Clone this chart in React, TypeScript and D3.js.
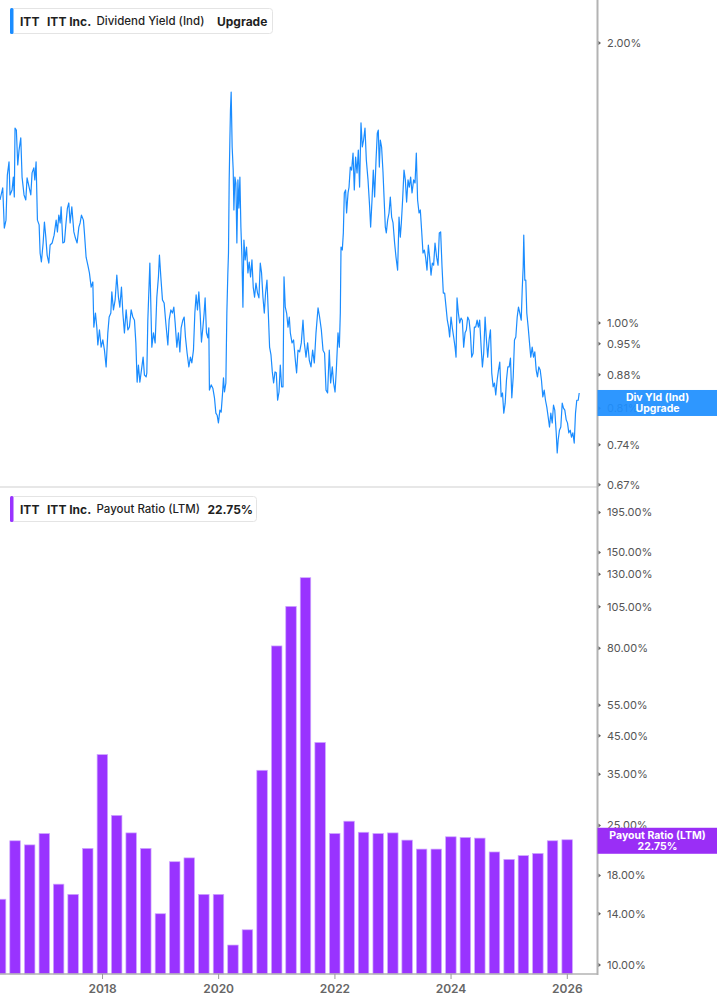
import * as d3 from 'd3';

const WIDTH = 717;
const HEIGHT = 1005;
const AXIS_X = 597.5;
const SPLIT_Y = 487;
const BOTTOM_Y = 974;

const BLUE = '#1a8cff';
const PURPLE = '#9933ff';

// dividend yield (ind), % -- [decimal year, value]
const divYield: [number, number][] = [
  [2016.236, 1.356], [2016.283, 1.397], [2016.310, 1.265], [2016.339, 1.290], [2016.362, 1.442],
  [2016.391, 1.490], [2016.408, 1.373], [2016.443, 1.390], [2016.465, 1.435], [2016.482, 1.366],
  [2016.494, 1.620], [2016.517, 1.612], [2016.541, 1.479], [2016.563, 1.534], [2016.593, 1.581],
  [2016.615, 1.435], [2016.649, 1.373], [2016.679, 1.356], [2016.701, 1.432], [2016.736, 1.400],
  [2016.765, 1.373], [2016.787, 1.450], [2016.817, 1.468], [2016.834, 1.425], [2016.856, 1.490],
  [2016.879, 1.290], [2016.908, 1.275], [2016.925, 1.189], [2016.947, 1.163], [2016.977, 1.219],
  [2016.999, 1.284], [2017.023, 1.237], [2017.046, 1.183], [2017.075, 1.160], [2017.097, 1.213],
  [2017.132, 1.219], [2017.166, 1.243], [2017.201, 1.290], [2017.223, 1.253], [2017.247, 1.306],
  [2017.270, 1.281], [2017.287, 1.333], [2017.316, 1.219], [2017.344, 1.222], [2017.368, 1.275],
  [2017.395, 1.329], [2017.419, 1.346], [2017.442, 1.281], [2017.471, 1.333], [2017.506, 1.253],
  [2017.533, 1.234], [2017.562, 1.219], [2017.592, 1.268], [2017.614, 1.281], [2017.637, 1.306],
  [2017.671, 1.290], [2017.688, 1.250], [2017.717, 1.177], [2017.747, 1.154], [2017.774, 1.132],
  [2017.804, 1.093], [2017.833, 1.107], [2017.850, 0.990], [2017.878, 1.025], [2017.902, 0.988],
  [2017.919, 0.947], [2017.947, 0.983], [2017.976, 0.942], [2018.005, 0.959], [2018.033, 0.935],
  [2018.062, 0.897], [2018.091, 0.976], [2018.114, 1.015], [2018.143, 1.025], [2018.160, 1.080],
  [2018.188, 1.033], [2018.217, 1.059], [2018.246, 1.126], [2018.274, 1.066], [2018.298, 1.040],
  [2018.326, 1.093], [2018.350, 1.025], [2018.377, 0.976], [2018.407, 1.033], [2018.436, 0.983],
  [2018.463, 0.990], [2018.493, 1.033], [2018.522, 1.015], [2018.550, 1.007], [2018.574, 0.952],
  [2018.596, 0.864], [2018.618, 0.901], [2018.643, 0.864], [2018.670, 0.890], [2018.699, 0.919],
  [2018.722, 0.879], [2018.751, 0.875], [2018.763, 0.884], [2018.780, 1.007], [2018.815, 1.160],
  [2018.849, 0.942], [2018.877, 0.976], [2018.906, 0.952], [2018.935, 1.066], [2018.963, 1.121],
  [2018.980, 1.183], [2019.004, 1.121], [2019.032, 1.059], [2019.061, 1.051], [2019.090, 1.000],
  [2019.125, 0.947], [2019.147, 1.007], [2019.177, 1.033], [2019.204, 1.025], [2019.228, 1.040],
  [2019.251, 1.000], [2019.280, 0.942], [2019.307, 0.976], [2019.332, 0.931], [2019.354, 0.988],
  [2019.383, 1.007], [2019.406, 1.015], [2019.428, 0.966], [2019.457, 0.928], [2019.487, 0.897],
  [2019.514, 0.919], [2019.538, 0.906], [2019.566, 0.935], [2019.590, 1.025], [2019.612, 1.072],
  [2019.635, 1.033], [2019.659, 1.080], [2019.681, 1.025], [2019.704, 0.954], [2019.728, 0.988],
  [2019.750, 1.025], [2019.767, 1.064], [2019.790, 0.976], [2019.814, 0.964], [2019.831, 0.988],
  [2019.841, 0.847], [2019.871, 0.858], [2019.900, 0.851], [2019.928, 0.831], [2019.952, 0.800],
  [2019.974, 0.796], [2019.996, 0.781], [2020.021, 0.806], [2020.043, 0.802], [2020.065, 0.837],
  [2020.083, 0.873], [2020.100, 0.843], [2020.124, 0.862], [2020.141, 1.025], [2020.158, 1.132],
  [2020.169, 1.189], [2020.181, 1.425], [2020.193, 1.573], [2020.203, 1.694], [2020.215, 1.771],
  [2020.232, 1.546], [2020.250, 1.460], [2020.262, 1.323], [2020.279, 1.435], [2020.296, 1.414],
  [2020.313, 1.219], [2020.331, 1.425], [2020.348, 1.329], [2020.365, 1.435], [2020.382, 1.268],
  [2020.400, 1.177], [2020.417, 1.040], [2020.434, 1.228], [2020.456, 1.169], [2020.479, 1.207],
  [2020.503, 1.132], [2020.525, 1.163], [2020.548, 1.121], [2020.572, 1.169], [2020.594, 1.093],
  [2020.617, 1.066], [2020.641, 1.104], [2020.668, 1.077], [2020.692, 1.064], [2020.715, 1.160],
  [2020.737, 1.132], [2020.761, 1.066], [2020.784, 1.025], [2020.806, 1.077], [2020.830, 1.112],
  [2020.853, 1.025], [2020.875, 0.942], [2020.899, 0.924], [2020.922, 0.886], [2020.944, 0.862],
  [2020.968, 0.886], [2020.990, 0.884], [2021.013, 0.826], [2021.037, 0.843], [2021.059, 0.901],
  [2021.082, 0.854], [2021.106, 0.854], [2021.123, 1.121], [2021.145, 1.040], [2021.168, 1.025],
  [2021.192, 0.990], [2021.214, 1.015], [2021.232, 0.976], [2021.261, 0.952], [2021.288, 0.959],
  [2021.318, 0.912], [2021.340, 0.884], [2021.364, 0.935], [2021.392, 0.931], [2021.421, 0.952],
  [2021.450, 1.007], [2021.473, 0.952], [2021.502, 0.919], [2021.530, 0.952], [2021.559, 0.912],
  [2021.588, 0.897], [2021.616, 0.935], [2021.645, 0.906], [2021.674, 0.976], [2021.709, 1.038],
  [2021.736, 1.015], [2021.766, 0.983], [2021.795, 0.935], [2021.822, 0.928], [2021.847, 0.847],
  [2021.874, 0.841], [2021.903, 0.935], [2021.926, 0.862], [2021.955, 0.897], [2021.977, 0.862],
  [2022.002, 0.843], [2022.024, 0.890], [2022.053, 0.976], [2022.076, 0.942], [2022.093, 1.025],
  [2022.105, 1.207], [2022.127, 1.198], [2022.145, 1.250], [2022.162, 1.380], [2022.184, 1.390],
  [2022.201, 1.313], [2022.226, 1.380], [2022.243, 1.400], [2022.265, 1.471], [2022.288, 1.460],
  [2022.312, 1.523], [2022.334, 1.390], [2022.356, 1.508], [2022.381, 1.450], [2022.403, 1.534],
  [2022.425, 1.400], [2022.449, 1.641], [2022.472, 1.546], [2022.494, 1.573], [2022.518, 1.620],
  [2022.541, 1.497], [2022.570, 1.425], [2022.598, 1.333], [2022.615, 1.268], [2022.639, 1.356],
  [2022.661, 1.460], [2022.684, 1.366], [2022.708, 1.497], [2022.730, 1.600], [2022.747, 1.612],
  [2022.765, 1.471], [2022.782, 1.573], [2022.804, 1.546], [2022.828, 1.453], [2022.846, 1.366],
  [2022.868, 1.268], [2022.885, 1.250], [2022.908, 1.290], [2022.932, 1.313], [2022.954, 1.366],
  [2022.977, 1.300], [2023.001, 1.281], [2023.028, 1.219], [2023.052, 1.177], [2023.080, 1.140],
  [2023.104, 1.300], [2023.126, 1.237], [2023.144, 1.281], [2023.166, 1.356], [2023.190, 1.460],
  [2023.213, 1.425], [2023.235, 1.349], [2023.259, 1.425], [2023.281, 1.400], [2023.304, 1.435],
  [2023.328, 1.380], [2023.356, 1.425], [2023.380, 1.414], [2023.402, 1.523], [2023.424, 1.356],
  [2023.449, 1.313], [2023.471, 1.323], [2023.493, 1.259], [2023.517, 1.189], [2023.540, 1.198],
  [2023.562, 1.177], [2023.586, 1.140], [2023.609, 1.213], [2023.631, 1.177], [2023.655, 1.126],
  [2023.678, 1.160], [2023.700, 1.154], [2023.724, 1.219], [2023.752, 1.177], [2023.776, 1.154],
  [2023.798, 1.250], [2023.821, 1.253], [2023.845, 1.149], [2023.867, 1.077], [2023.890, 1.077],
  [2023.914, 1.040], [2023.936, 1.007], [2023.958, 0.990], [2023.976, 0.966], [2024.000, 1.015],
  [2024.022, 0.988], [2024.045, 0.966], [2024.069, 0.942], [2024.086, 0.919], [2024.103, 1.064],
  [2024.126, 1.025], [2024.148, 1.000], [2024.172, 1.012], [2024.194, 1.007], [2024.217, 0.942],
  [2024.241, 0.976], [2024.263, 0.983], [2024.286, 1.015], [2024.310, 1.007], [2024.332, 0.976],
  [2024.355, 0.919], [2024.379, 0.928], [2024.401, 0.990], [2024.424, 0.990], [2024.448, 1.007],
  [2024.470, 0.990], [2024.492, 1.007], [2024.517, 0.942], [2024.539, 0.897], [2024.561, 0.928],
  [2024.585, 1.015], [2024.608, 0.959], [2024.630, 0.919], [2024.654, 0.959], [2024.677, 0.983],
  [2024.699, 0.884], [2024.723, 0.854], [2024.746, 0.862], [2024.768, 0.837], [2024.792, 0.868],
  [2024.815, 0.890], [2024.837, 0.908], [2024.861, 0.833], [2024.884, 0.841], [2024.906, 0.800],
  [2024.930, 0.820], [2024.952, 0.868], [2024.975, 0.897], [2024.999, 0.897], [2025.021, 0.917],
  [2025.044, 0.831], [2025.068, 0.875], [2025.090, 0.959], [2025.113, 0.966], [2025.137, 1.015],
  [2025.159, 1.040], [2025.182, 1.025], [2025.206, 1.007], [2025.223, 1.085], [2025.240, 1.149],
  [2025.250, 1.243], [2025.268, 1.112], [2025.285, 1.112], [2025.302, 1.025], [2025.326, 0.990],
  [2025.349, 0.952], [2025.371, 0.919], [2025.395, 0.942], [2025.418, 0.919], [2025.440, 0.931],
  [2025.464, 0.890], [2025.486, 0.875], [2025.509, 0.897], [2025.533, 0.890], [2025.555, 0.868],
  [2025.578, 0.833], [2025.602, 0.847], [2025.624, 0.826], [2025.647, 0.812], [2025.671, 0.792],
  [2025.693, 0.773], [2025.716, 0.800], [2025.740, 0.781], [2025.762, 0.816], [2025.784, 0.806],
  [2025.809, 0.762], [2025.826, 0.725], [2025.843, 0.749], [2025.865, 0.767], [2025.888, 0.773],
  [2025.912, 0.820], [2025.934, 0.810], [2025.957, 0.806], [2025.981, 0.787], [2026.003, 0.781],
  [2026.026, 0.762], [2026.050, 0.767], [2026.072, 0.754], [2026.095, 0.762], [2026.119, 0.743],
  [2026.141, 0.800], [2026.163, 0.826], [2026.188, 0.826], [2026.205, 0.841],
];

// payout ratio (LTM), % per fiscal quarter
const payoutQuarters = [
  '2016Q1', '2016Q2', '2016Q3', '2016Q4', '2017Q1', '2017Q2', '2017Q3', '2017Q4',
  '2018Q1', '2018Q2', '2018Q3', '2018Q4', '2019Q1', '2019Q2', '2019Q3', '2019Q4',
  '2020Q1', '2020Q2', '2020Q3', '2020Q4', '2021Q1', '2021Q2', '2021Q3', '2021Q4',
  '2022Q1', '2022Q2', '2022Q3', '2022Q4', '2023Q1', '2023Q2', '2023Q3', '2023Q4',
  '2024Q1', '2024Q2', '2024Q3', '2024Q4', '2025Q1', '2025Q2', '2025Q3', '2025Q4',
];
const payoutValues = [
  15.4, 22.6, 22.0, 23.7, 17.0, 15.9, 21.5, 39.8,
  26.7, 23.8, 21.5, 14.0, 19.7, 20.2, 15.9, 15.9,
  11.4, 12.6, 35.9, 81.2, 105.3, 127.1, 43.1, 23.7,
  25.7, 23.9, 23.7, 23.8, 22.7, 21.4, 21.4, 23.2,
  23.1, 23.0, 21.0, 20.0, 20.5, 20.8, 22.6, 22.75,
];

const yieldTicks = [2.0, 1.0, 0.95, 0.88, 0.81, 0.74, 0.67];
const payoutTicks = [195, 150, 130, 105, 80, 55, 45, 35, 25, 18, 14, 10];
const yearTicks = [2018, 2020, 2022, 2024, 2026];

const toDate = (t: number) => {
  const yr = Math.floor(t);
  const a = Date.UTC(yr, 0, 1);
  const b = Date.UTC(yr + 1, 0, 1);
  return new Date(a + (t - yr) * (b - a));
};
const quarterEnd = (q: string) => {
  const yr = +q.slice(0, 4);
  const qn = +q.slice(5);
  return new Date(Date.UTC(yr, qn * 3, 0));
};

const FONT = 'Inter, "Noto Sans", sans-serif';

export default function App() {
  const x = d3.scaleTime()
    .domain([toDate(2016.236), toDate(2026.52)])
    .range([0, AXIS_X]);

  const yTop = d3.scaleLog().domain([0.6664, 2.2244]).range([SPLIT_Y, 0]);
  const yBot = d3.scaleLog().domain([9.426, 230.5]).range([BOTTOM_Y, SPLIT_Y]);

  const line = d3.line<[number, number]>()
    .x((d) => x(toDate(d[0])))
    .y((d) => yTop(d[1]));

  const barW = 10.5;
  const lastYield = divYield[divYield.length - 1][1];
  const lastPayout = payoutValues[payoutValues.length - 1];
  // the yield tag sits a little below the last print in the original
  const yLab = yTop(lastYield) + 10;
  const pLab = yBot(lastPayout) + 1;

  return (
    <svg
      width={WIDTH}
      height={HEIGHT}
      style={{ position: 'absolute', left: 0, top: 0, background: '#fff' }}
      fontFamily={FONT}
    >
      <defs>
        <clipPath id="topClip">
          <rect x={0} y={0} width={AXIS_X} height={SPLIT_Y} />
        </clipPath>
      </defs>

      {/* dividend yield line */}
      <path
        d={line(divYield) || ''}
        fill="none"
        stroke={BLUE}
        strokeWidth={1.2}
        strokeLinejoin="round"
        clipPath="url(#topClip)"
      />

      {/* payout ratio bars */}
      <g>
        {payoutQuarters.map((q, i) => {
          const cx = x(quarterEnd(q));
          const top = yBot(payoutValues[i]);
          return (
            <rect
              key={q}
              x={cx - barW / 2}
              y={top}
              width={barW}
              height={BOTTOM_Y - top}
              fill={PURPLE}
              stroke="#cfa8ff"
              strokeWidth={0.7}
            />
          );
        })}
      </g>

      {/* frame lines */}
      <line x1={0} x2={AXIS_X} y1={SPLIT_Y} y2={SPLIT_Y} stroke="#cfcfcf" strokeWidth={1} />
      <line x1={0} x2={AXIS_X} y1={BOTTOM_Y} y2={BOTTOM_Y} stroke="#b3b3b3" strokeWidth={1.5} />
      <line x1={AXIS_X} x2={AXIS_X} y1={0} y2={BOTTOM_Y + 1} stroke="#b3b3b3" strokeWidth={2} />

      {/* x ticks */}
      {yearTicks.map((yr) => {
        const xx = x(new Date(Date.UTC(yr, 0, 1)));
        return (
          <g key={yr}>
            <line x1={xx} x2={xx} y1={BOTTOM_Y} y2={BOTTOM_Y + 5} stroke="#999" strokeWidth={1} />
            <text x={xx} y={988} textAnchor="middle" dominantBaseline="central" fontSize={12} fontWeight={600} fill="#666">
              {yr}
            </text>
          </g>
        );
      })}

      {/* right y ticks: yield */}
      {yieldTicks.map((v) => (
        <g key={`yt${v}`} transform={`translate(${AXIS_X},${yTop(v)})`}>
          <path d="M1,-2 L3.5,0 L1,2 Z" fill="#666" />
          <text x={9.5} dominantBaseline="central" fontSize={11} fill="#555">
            {`${v.toFixed(2)}%`}
          </text>
        </g>
      ))}

      {/* right y ticks: payout */}
      {payoutTicks.map((v) => (
        <g key={`pt${v}`} transform={`translate(${AXIS_X},${yBot(v)})`}>
          <path d="M1,-2 L3.5,0 L1,2 Z" fill="#666" />
          <text x={9.5} dominantBaseline="central" fontSize={11} fill="#555">
            {`${v.toFixed(2)}%`}
          </text>
        </g>
      ))}

      {/* last value labels */}
      <g transform={`translate(${AXIS_X},${yLab})`}>
        <rect x={0} y={-13} width={WIDTH - AXIS_X} height={26} fill="#1e8fff" fillOpacity={0.93} />
        <text x={60} y={-5.5} textAnchor="middle" dominantBaseline="central" fontSize={10.5} fontWeight={700} fill="#fff">
          Div Yld (Ind)
        </text>
        <text x={60} y={5.5} textAnchor="middle" dominantBaseline="central" fontSize={10.5} fontWeight={700} fill="#fff">
          Upgrade
        </text>
      </g>
      <g transform={`translate(${AXIS_X},${pLab})`}>
        <rect x={0} y={-13} width={WIDTH - AXIS_X} height={26} fill="#9a2ef6" />
        <text x={60} y={-5.5} textAnchor="middle" dominantBaseline="central" fontSize={10.5} fontWeight={700} fill="#fff">
          Payout Ratio (LTM)
        </text>
        <text x={60} y={5.5} textAnchor="middle" dominantBaseline="central" fontSize={10.5} fontWeight={700} fill="#fff">
          {`${lastPayout.toFixed(2)}%`}
        </text>
      </g>

      {/* legends */}
      <g>
        <rect x={10.5} y={8.5} width={262} height={25} rx={3} fill="#fff" stroke="#e4e4e4" />
        <rect x={10} y={8} width={3.5} height={26} rx={1.5} fill={BLUE} />
        <g fill="#1f1f1f" dominantBaseline="central">
          <text x={20} y={21} fontSize={12} fontWeight={700}>ITT</text>
          <text x={47} y={21} fontSize={12} fontWeight={700}>ITT Inc.</text>
          <text x={96.5} y={21} fontSize={11.5} fontWeight={500}>Dividend Yield (Ind)</text>
          <text x={217} y={21} fontSize={12} fontWeight={700}>Upgrade</text>
        </g>
      </g>
      <g>
        <rect x={10.5} y={496.5} width={246} height={25} rx={3} fill="#fff" stroke="#e4e4e4" />
        <rect x={10} y={496} width={3.5} height={26} rx={1.5} fill={PURPLE} />
        <g fill="#1f1f1f" dominantBaseline="central">
          <text x={20} y={509} fontSize={12} fontWeight={700}>ITT</text>
          <text x={47} y={509} fontSize={12} fontWeight={700}>ITT Inc.</text>
          <text x={96.5} y={509} fontSize={11.5} fontWeight={500}>Payout Ratio (LTM)</text>
          <text x={207.5} y={509} fontSize={12} fontWeight={700}>{`${lastPayout.toFixed(2)}%`}</text>
        </g>
      </g>
    </svg>
  );
}
